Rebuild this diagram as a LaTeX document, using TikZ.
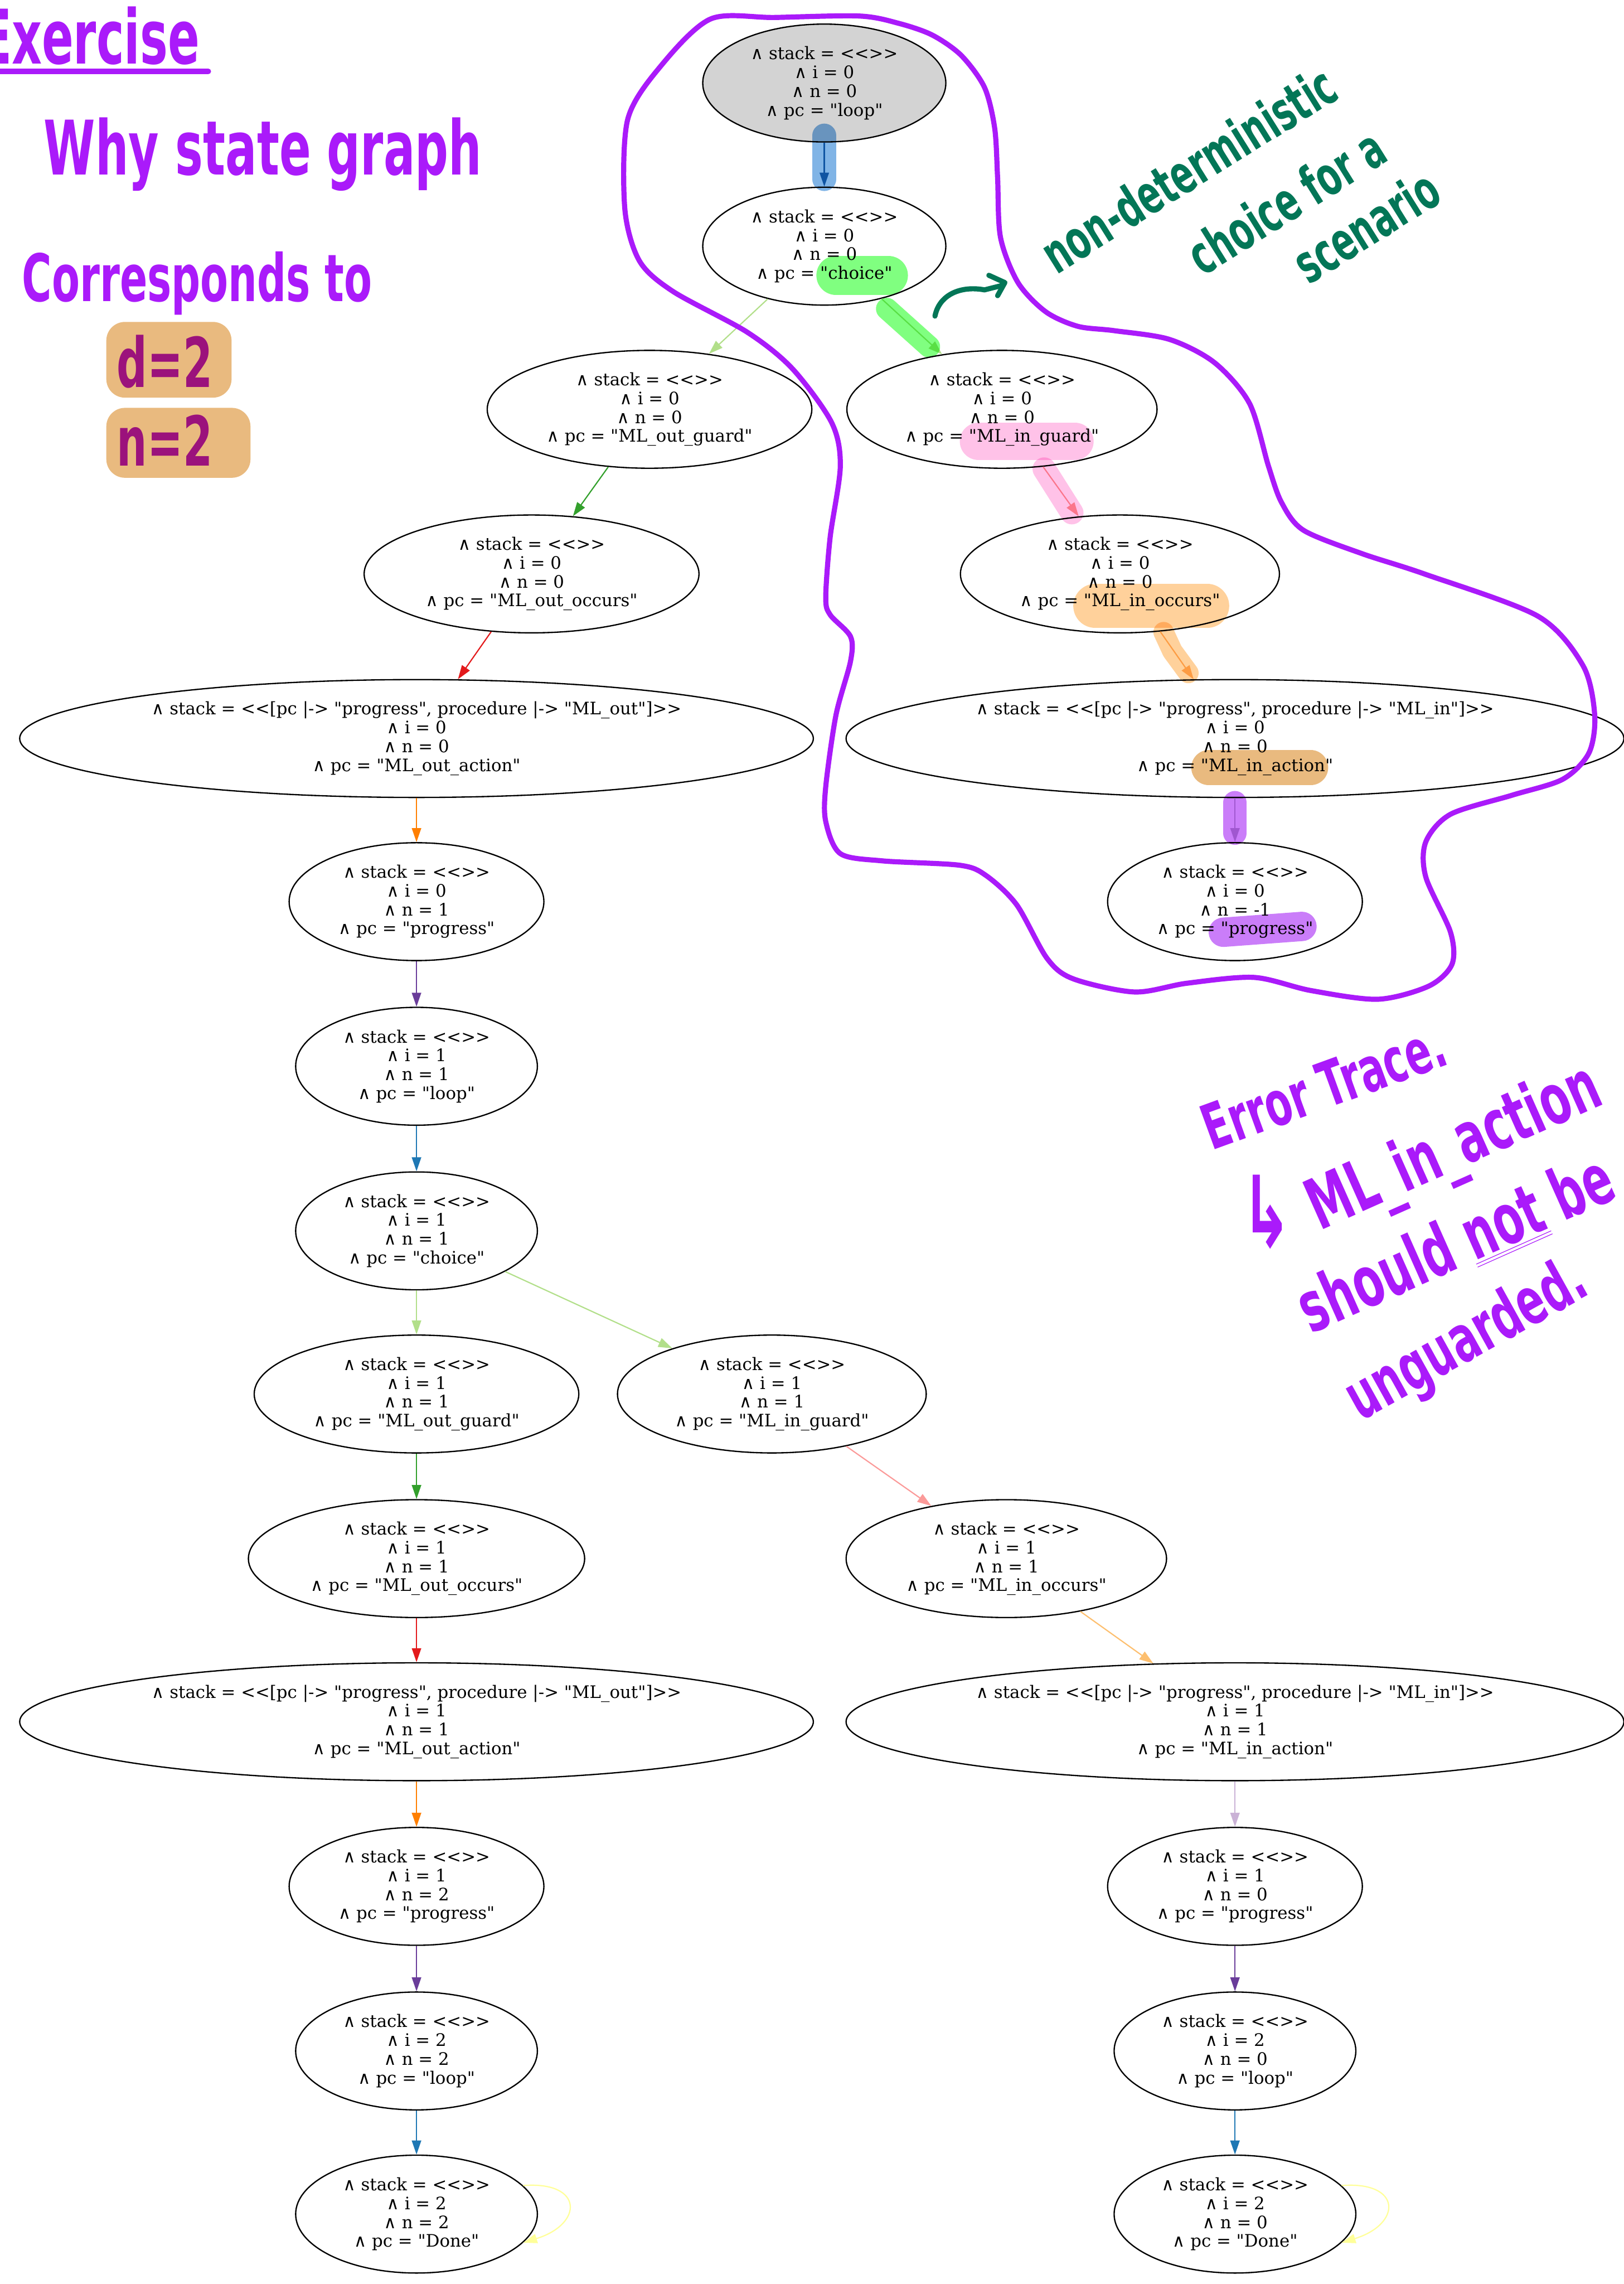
\documentclass[tikz,border=0pt]{standalone}
\usepackage{fontspec}
\usepackage{tikz}
\usetikzlibrary{arrows.meta,shapes.geometric}
\newfontfamily\nodefont[Ligatures=TeXOff]{DejaVu Serif}
\newfontfamily\handfont[FakeStretch=0.62]{DejaVu Sans}
\definecolor{gvgray}{HTML}{D3D3D3}
\definecolor{gvblue}{HTML}{1F78B4}
\definecolor{gvlightgreen}{HTML}{B2DF8A}
\definecolor{gvgreen}{HTML}{33A02C}
\definecolor{gvpink}{HTML}{FB9A99}
\definecolor{gvred}{HTML}{E31A1C}
\definecolor{gvlightorange}{HTML}{FDBF6F}
\definecolor{gvorange}{HTML}{FF7F00}
\definecolor{gvlilac}{HTML}{CAB2D6}
\definecolor{gvpurple}{HTML}{6A3D9A}
\definecolor{gvyellow}{HTML}{FFFF99}
\definecolor{inkpurple}{HTML}{AA1AFA}
\definecolor{inkgreen}{HTML}{037657}
\definecolor{hlblue}{HTML}{80B4E6}
\definecolor{hlgreen}{HTML}{80FF80}
\definecolor{hlpink}{HTML}{FFC2E8}
\definecolor{hlorange}{HTML}{FFD19B}
\definecolor{hltan}{HTML}{E9BA7F}
\definecolor{hlpurple}{HTML}{CA7DF9}
\newcommand{\tlastate}[4]{∧ stack = #1\\∧ i = #2\\∧ n = #3\\∧ pc = "#4"}
\newcommand{\emptystack}{<<>>}
\newcommand{\callstack}[1]{<<[pc |-> "progress", procedure |-> "#1"]>>}

\begin{document}
\begin{tikzpicture}[x=0.3127mm, y=-0.3127mm,
    state/.style={ellipse, draw, line width=0.8pt, inner sep=0pt, minimum height=25.3mm,
        align=center, font=\nodefont\fontsize{10.5}{11.5}\selectfont},
    trans/.style={-{Triangle[length=3mm,width=2mm]}, line width=0.75pt},
    ink/.style={inner sep=0pt, text=inkpurple, font=\handfont\bfseries\fontsize{#1}{#1}\selectfont},
    note/.style={inner sep=0pt, text=inkgreen, rotate=32, font=\handfont\bfseries\fontsize{33}{33}\selectfont},
    marker/.style={line cap=round, line join=round, blend mode=multiply}]
    \useasboundingbox (0,0) rectangle (1115,1568);

    \node[state, fill=gvgray, minimum width=52.2mm] (start) at (566,57) {\tlastate{\emptystack}{0}{0}{loop}};
    \node[state, minimum width=52.2mm] (choiceA) at (566,169) {\tlastate{\emptystack}{0}{0}{choice}};
    \node[state, minimum width=69.7mm] (outguardA) at (446,281) {\tlastate{\emptystack}{0}{0}{ML\_out\_guard}};
    \node[state, minimum width=66.6mm] (inguardA) at (688,281) {\tlastate{\emptystack}{0}{0}{ML\_in\_guard}};
    \node[state, minimum width=71.9mm] (outoccursA) at (365,394) {\tlastate{\emptystack}{0}{0}{ML\_out\_occurs}};
    \node[state, minimum width=68.5mm] (inoccursA) at (769,394) {\tlastate{\emptystack}{0}{0}{ML\_in\_occurs}};
    \node[state, minimum width=170.4mm] (outactionA) at (286,507) {\tlastate{\callstack{ML\_out}}{0}{0}{ML\_out\_action}};
    \node[state, minimum width=167mm] (inactionA) at (848,507) {\tlastate{\callstack{ML\_in}}{0}{0}{ML\_in\_action}};
    \node[state, minimum width=54.7mm] (progressA) at (286,619) {\tlastate{\emptystack}{0}{1}{progress}};
    \node[state, minimum width=54.7mm] (stuck) at (848,619) {\tlastate{\emptystack}{0}{-1}{progress}};
    \node[state, minimum width=51.9mm] (loopB) at (286,732) {\tlastate{\emptystack}{1}{1}{loop}};
    \node[state, minimum width=51.9mm] (choiceB) at (286,845) {\tlastate{\emptystack}{1}{1}{choice}};
    \node[state, minimum width=69.7mm] (outguardB) at (286,957) {\tlastate{\emptystack}{1}{1}{ML\_out\_guard}};
    \node[state, minimum width=66.3mm] (inguardB) at (530,957) {\tlastate{\emptystack}{1}{1}{ML\_in\_guard}};
    \node[state, minimum width=72.2mm] (outoccursB) at (286,1070) {\tlastate{\emptystack}{1}{1}{ML\_out\_occurs}};
    \node[state, minimum width=68.8mm] (inoccursB) at (691,1070) {\tlastate{\emptystack}{1}{1}{ML\_in\_occurs}};
    \node[state, minimum width=170.4mm] (outactionB) at (286,1182) {\tlastate{\callstack{ML\_out}}{1}{1}{ML\_out\_action}};
    \node[state, minimum width=167mm] (inactionB) at (848,1182) {\tlastate{\callstack{ML\_in}}{1}{1}{ML\_in\_action}};
    \node[state, minimum width=54.7mm] (progressB) at (286,1295) {\tlastate{\emptystack}{1}{2}{progress}};
    \node[state, minimum width=54.7mm] (progressC) at (848,1295) {\tlastate{\emptystack}{1}{0}{progress}};
    \node[state, minimum width=51.9mm] (loopC) at (286,1408) {\tlastate{\emptystack}{2}{2}{loop}};
    \node[state, minimum width=51.9mm] (loopD) at (848,1408) {\tlastate{\emptystack}{2}{0}{loop}};
    \node[state, minimum width=51.9mm] (doneC) at (286,1520) {\tlastate{\emptystack}{2}{2}{Done}};
    \node[state, minimum width=51.9mm] (doneD) at (848,1520) {\tlastate{\emptystack}{2}{0}{Done}};

    \foreach \a/\b/\c in {start/choiceA/gvblue, choiceA/outguardA/gvlightgreen, choiceA/inguardA/gvlightgreen,
        outguardA/outoccursA/gvgreen, inguardA/inoccursA/gvpink, outoccursA/outactionA/gvred,
        inoccursA/inactionA/gvlightorange, outactionA/progressA/gvorange, inactionA/stuck/gvlilac,
        progressA/loopB/gvpurple, loopB/choiceB/gvblue, choiceB/outguardB/gvlightgreen,
        choiceB/inguardB/gvlightgreen, outguardB/outoccursB/gvgreen, inguardB/inoccursB/gvpink,
        outoccursB/outactionB/gvred, inoccursB/inactionB/gvlightorange, outactionB/progressB/gvorange,
        inactionB/progressC/gvlilac, progressB/loopC/gvpurple, progressC/loopD/gvpurple,
        loopC/doneC/gvblue, loopD/doneD/gvblue}
        \draw[trans, \c] (\a) -- (\b);
    \draw[trans, gvyellow] (doneC.15) .. controls +(13mm,1mm) and +(13mm,4mm) .. (doneC.-15);
    \draw[trans, gvyellow] (doneD.15) .. controls +(13mm,1mm) and +(13mm,4mm) .. (doneD.-15);

    % handwritten notes
    \node[ink=46, anchor=base west] (exercise) at (-14,44) {Exercise};
    \draw[inkpurple, line width=1.2mm, line cap=round] (0,49) -- (143,49);
    \node[ink=46, anchor=base west] (why) at (30,120) {Why state graph};
    \node[ink=40, anchor=base west] (corresponds) at (15,207) {Corresponds to};
    \node[ink=42, anchor=base west] (dvalue) at (80,266) {d=2};
    \node[ink=42, anchor=base west] (nvalue) at (80,320) {n=2};

    \node[note] (noteA) at (816,116) {non-deterministic};
    \node[note] (noteB) at (883,138) {choice for a};
    \node[note] (noteC) at (938,155) {scenario};
    \draw[inkgreen, line width=1.1mm, line cap=round, line join=round]
        (642,217) .. controls (645,202) and (660,196) .. (676,199) -- (688,196);
    \draw[inkgreen, line width=1.1mm, line cap=round, line join=round] (679,189) -- (690,194) -- (685,203);

    \node[ink=38, anchor=base west, rotate=20] (errtrace) at (832,790) {Error Trace.};
    \node[ink=60] (hook) at (870,832) {↳};
    \node[ink=43, anchor=base west, rotate=24] (culprit) at (906,845) {ML\_in\_action};
    \node[ink=43, anchor=base west, rotate=24] (should) at (900,916) {should \underline{\underline{not}} be};
    \node[ink=40, anchor=base west, rotate=29] (unguarded) at (934,976) {unguarded.};

    \draw[inkpurple, line width=1.1mm, line cap=round] plot[smooth cycle] coordinates {
        (488,13) (532,12) (590,11) (617,16) (640,24) (660,38) (676,60) (683,88) (685,122)
        (687,163) (699,194) (718,214) (740,224) (765,227) (803,233) (834,249) (858,277)
        (871,320) (880,345) (895,364) (935,380) (978,394) (1056,423) (1087,457) (1095,491)
        (1091,517) (1073,535) (1038,546) (996,559) (979,578) (979,602) (996,640) (997,662)
        (981,677) (946,686) (900,680) (861,671) (815,675) (779,681) (737,672) (719,658)
        (698,621) (677,601) (659,594) (606,591) (577,586) (567,564) (567,540) (574,491)
        (584,454) (584,437) (570,422) (567,410) (570,369) (577,320) (571,290) (544,253)
        (513,228) (462,200) (439,179) (429,143) (431,82) (454,45)};

    % highlighter
    \draw[marker, hlblue, line width=5.1mm] (566,93) -- (566,123);
    \draw[marker, hlgreen, line width=8.4mm] (574,189) -- (610,189);
    \draw[marker, hlgreen, line width=4.7mm] (609,212) -- (638,238);
    \draw[marker, hlpink, line width=8.1mm] (672,303) -- (738,303);
    \draw[marker, hlpink, line width=5mm] (717,322) -- (736,352);
    \draw[marker, hlorange, line width=9.4mm] (752,416) -- (829,416);
    \draw[marker, hlorange, line width=4.4mm] (799,434) -- (805,447) -- (816,462);
    \draw[marker, hltan, line width=7.5mm] (830,527) -- (900,527);
    \draw[marker, hlpurple, line width=5mm] (848,551) -- (848,572);
    \draw[marker, hlpurple, line width=6.3mm] (840,640) -- (894,636);
    \fill[marker, hltan, rounded corners=4mm] (73,221) rectangle (159,273);
    \fill[marker, hltan, rounded corners=4mm] (73,280) rectangle (172,328);
\end{tikzpicture}
\end{document}
